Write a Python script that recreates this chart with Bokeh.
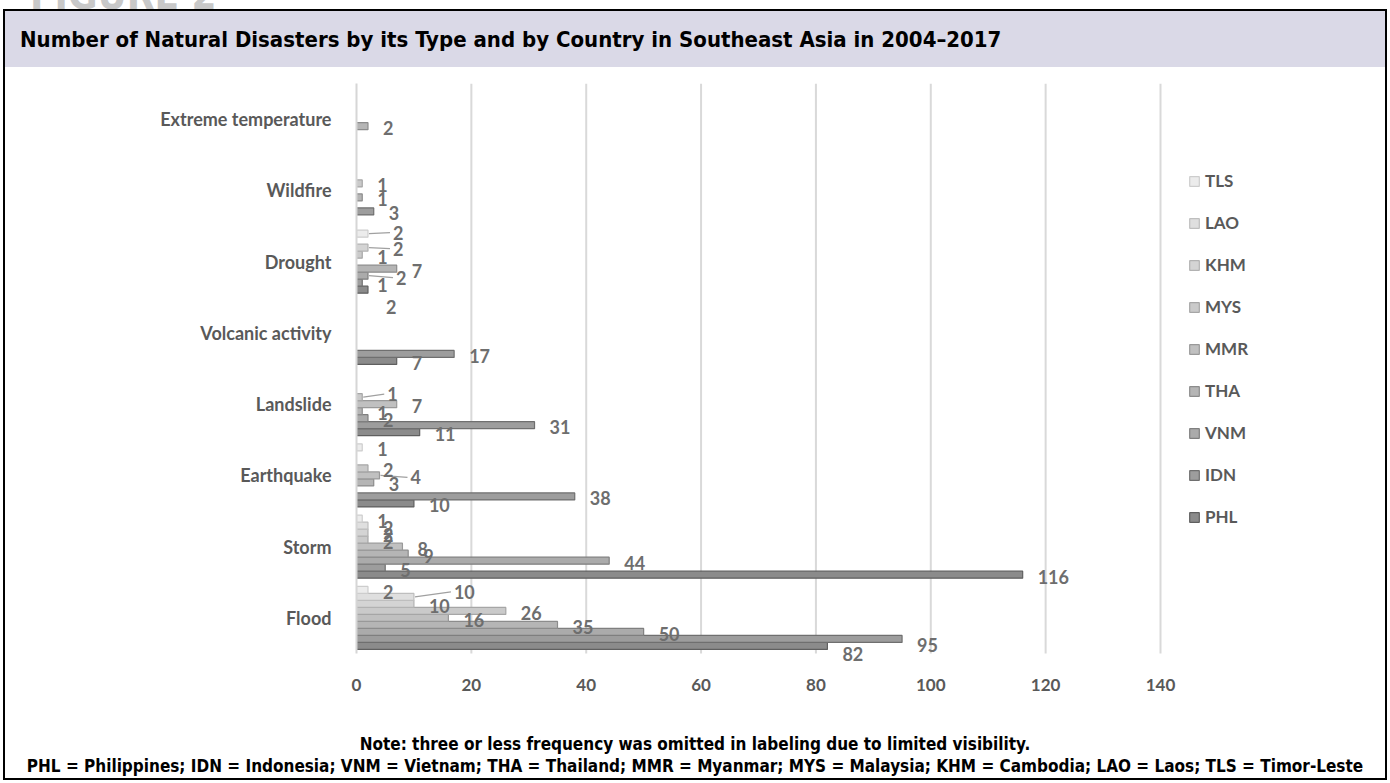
from bokeh.plotting import figure
from bokeh.layouts import column, row
from bokeh.models import Range1d, FixedTicker, Legend, LegendItem, ColumnDataSource, Div
from bokeh.embed import file_html
from bokeh.resources import INLINE
from bokeh.core.properties import value

# ---------------- data ----------------
categories = ["Flood", "Storm", "Earthquake", "Landslide", "Volcanic activity",
              "Drought", "Wildfire", "Extreme temperature"]
countries = ["PHL", "IDN", "VNM", "THA", "MMR", "MYS", "KHM", "LAO", "TLS"]
PHL = [82, 116, 10, 11, 7, 2, 0, 0]
IDN = [95, 5, 38, 31, 17, 1, 3, 0]
VNM = [50, 44, 0, 2, 0, 2, 0, 0]
THA = [35, 9, 3, 1, 0, 7, 1, 2]
MMR = [16, 8, 4, 7, 0, 0, 0, 0]
MYS = [26, 2, 2, 1, 0, 1, 1, 0]
KHM = [10, 2, 0, 0, 0, 2, 0, 0]
LAO = [10, 2, 0, 0, 0, 0, 0, 0]
TLS = [2, 1, 1, 0, 0, 2, 0, 0]
x_ticks = [0, 20, 40, 60, 80, 100, 120, 140]
title_text = "Number of Natural Disasters by its Type and by Country in Southeast Asia in 2004\u20132017"
note1 = "Note: three or less frequency was omitted in labeling due to limited visibility."
note2 = ("PHL = Philippines; IDN = Indonesia; VNM = Vietnam; THA = Thailand; MMR = Myanmar; "
         "MYS = Malaysia; KHM = Cambodia; LAO = Laos; TLS = Timor-Leste")
series = {"PHL": PHL, "IDN": IDN, "VNM": VNM, "THA": THA, "MMR": MMR,
          "MYS": MYS, "KHM": KHM, "LAO": LAO, "TLS": TLS}

# ---------------- layout / styles ----------------
W = 1390
HEAD_H, MID_H, FOOT_H = 67, 663, 53
SIDE = 6                                  # side strips carrying the frame border
PW = W - 2 * SIDE                         # figure width
XMAX = 140
NCAT = len(categories)
# frame in global px
GL, G140, GT, GB0, GB = 356, 1160, 83, 653, 671   # left, x=140, top, y=0 line, frame bottom
GR = 1300
pxx = (G140 - GL) / XMAX
pxy = (GB0 - GT) / NCAT
bh = 7.0 / pxy
y_lo = -(GB - GB0) / pxy
x_hi = (GR - GL) / pxx

fills = {"PHL": "#8b8b8b", "IDN": "#9d9d9d", "VNM": "#ababab", "THA": "#b5b5b5",
         "MMR": "#c0c0c0", "MYS": "#cacaca", "KHM": "#d4d4d4", "LAO": "#dfdfdf",
         "TLS": "#ececec"}
lines = {"PHL": "#5f5f5f", "IDN": "#6f6f6f", "VNM": "#7f7f7f", "THA": "#8c8c8c",
         "MMR": "#999999", "MYS": "#a6a6a6", "KHM": "#b2b2b2", "LAO": "#bebebe",
         "TLS": "#cdcdcd"}
nudge = {("Flood", "LAO"): (40, -5), ("Flood", "IDN"): (15, 6), ("Flood", "PHL"): (15, 8),
         ("Drought", "TLS"): (25, -1), ("Drought", "KHM"): (25, 1), ("Drought", "VNM"): (28, 2),
         ("Drought", "PHL"): (18, 17), ("Landslide", "MYS"): (25, -3),
         ("Earthquake", "MMR"): (31, 2)}
leaders = {("Flood", "LAO"), ("Drought", "TLS"), ("Drought", "KHM"), ("Drought", "VNM"),
           ("Landslide", "MYS"), ("Earthquake", "MMR")}

GRAY = "#595959"
LAB = "#6e6e6e"
FONT = "Lato"
NARROW = "'DejaVu Sans Condensed', 'DejaVu Sans', sans-serif"

p = figure(width=PW, height=MID_H, output_backend="svg", toolbar_location=None,
           x_range=Range1d(0, x_hi), y_range=Range1d(y_lo, NCAT),
           min_border_left=GL - SIDE, min_border_right=PW - (GR - SIDE),
           min_border_top=GT - HEAD_H, min_border_bottom=MID_H - (GB - HEAD_H),
           margin=0)
p.outline_line_color = None
p.background_fill_color = "white"
p.border_fill_color = "white"
p.xgrid.grid_line_color = None
p.ygrid.grid_line_color = None

p.xaxis.ticker = FixedTicker(ticks=x_ticks)
p.xaxis.axis_line_color = None
p.xaxis.major_tick_line_color = None
p.xaxis.minor_tick_line_color = None
p.xaxis.major_label_standoff = 1
p.xaxis.major_label_text_font = FONT
p.xaxis.major_label_text_font_style = "bold"
p.xaxis.major_label_text_font_size = "17px"
p.xaxis.major_label_text_color = GRAY

p.yaxis.ticker = FixedTicker(ticks=[i + 0.5 for i in range(NCAT)])
p.yaxis.major_label_overrides = {i + 0.5: c for i, c in enumerate(categories)}
p.yaxis.bounds = (0, NCAT)
p.yaxis.axis_line_color = "#d6d6d6"
p.yaxis.axis_line_width = 2
p.yaxis.major_tick_line_color = None
p.yaxis.minor_tick_line_color = None
p.yaxis.major_label_standoff = 19
p.yaxis.major_label_text_font = FONT
p.yaxis.major_label_text_font_style = "bold"
p.yaxis.major_label_text_font_size = "18px"
p.yaxis.major_label_text_color = GRAY

# vertical gridlines at the value ticks, spanning the category band only
p.segment(x0=x_ticks[1:], y0=0, x1=x_ticks[1:], y1=NCAT, line_color="#d9d9d9", line_width=2)

renderers = {}
lab_x, lab_y, lab_t, lab_dx, lab_dy = [], [], [], [], []
ld_x0, ld_y0, ld_x1, ld_y1 = [], [], [], []
for k, c in enumerate(countries):
    vals = series[c]
    ys, rs = [], []
    for i, v in enumerate(vals):
        if v <= 0:
            continue
        y = i + 0.5 + (k - 4) * bh
        ys.append(y)
        rs.append(v)
        ndx, ndy = nudge.get((categories[i], c), (15, 2))
        lab_x.append(v)
        lab_y.append(y)
        lab_t.append(str(v))
        lab_dx.append(ndx)
        lab_dy.append(ndy)
        if (categories[i], c) in leaders:
            ld_x0.append(v + 1.0 / pxx)
            ld_y0.append(y)
            ld_x1.append(v + (ndx - 3) / pxx)
            ld_y1.append(y - ndy / pxy)
    src = ColumnDataSource(dict(y=ys, right=rs))
    renderers[c] = p.hbar(y="y", right="right", left=0, height=bh, source=src,
                          fill_color=fills[c], line_color=lines[c], line_width=1.2)

p.segment(x0=ld_x0, y0=ld_y0, x1=ld_x1, y1=ld_y1, line_color="#a0a0a0", line_width=1.2)

lsrc = ColumnDataSource(dict(x=lab_x, y=lab_y, t=lab_t, dx=lab_dx, dy=lab_dy))
p.text(x="x", y="y", text="t", x_offset="dx", y_offset="dy", source=lsrc,
       text_font=value(FONT), text_font_style="bold", text_font_size="18px",
       text_color=LAB, text_align="left", text_baseline="middle")

items = [LegendItem(label=c, renderers=[renderers[c]]) for c in reversed(countries)]
legend = Legend(items=items, location=(1188 - GL, GB - 527), orientation="vertical",
                glyph_width=12, glyph_height=12, label_height=20, spacing=21,
                padding=0, margin=0, border_line_color=None, background_fill_alpha=0,
                label_text_font=FONT, label_text_font_style="bold",
                label_text_font_size="17px", label_text_color=GRAY, label_standoff=5)
p.add_layout(legend)

# ---------------- header / footer / frame sides ----------------
header_html = f"""
<div style="position:relative;width:{W}px;height:{HEAD_H}px;overflow:hidden;background:#fff;">
  <div style="position:absolute;left:30px;top:-25px;font:bold 40px {NARROW};color:#c8c8c8;
              line-height:40px;white-space:nowrap;">FIGURE 2</div>
  <div style="position:absolute;left:3px;top:9px;width:{W - 6}px;height:{HEAD_H - 9}px;
              box-sizing:border-box;border-top:2px solid #000;border-left:2px solid #000;
              border-right:2px solid #000;background:#dad9e7;"></div>
  <div style="position:absolute;left:20px;top:26px;font:bold 22px {NARROW};color:#000;
              line-height:28px;white-space:nowrap;">{title_text}</div>
</div>"""
footer_html = f"""
<div style="position:relative;width:{W}px;height:{FOOT_H}px;overflow:hidden;background:#fff;">
  <div style="position:absolute;left:3px;top:0;width:{W - 6}px;height:{FOOT_H - 3}px;
              box-sizing:border-box;border-left:2px solid #000;border-right:2px solid #000;
              border-bottom:2px solid #000;"></div>
  <div style="position:absolute;left:0;top:3px;width:{W}px;text-align:center;
              font:bold 17px {NARROW};color:#000;line-height:22px;white-space:nowrap;">{note1}</div>
  <div style="position:absolute;left:0;top:25px;width:{W}px;text-align:center;
              font:bold 17px {NARROW};color:#000;line-height:22px;white-space:nowrap;">{note2}</div>
</div>"""
side_l = f"""<div style="position:relative;width:{SIDE}px;height:{MID_H}px;background:#fff;">
  <div style="position:absolute;left:3px;top:0;width:2px;height:{MID_H}px;background:#000;"></div></div>"""
side_r = f"""<div style="position:relative;width:{SIDE}px;height:{MID_H}px;background:#fff;">
  <div style="position:absolute;left:1px;top:0;width:2px;height:{MID_H}px;background:#000;"></div></div>"""

header = Div(text=header_html, width=W, height=HEAD_H, margin=0)
footer = Div(text=footer_html, width=W, height=FOOT_H, margin=0)
left_strip = Div(text=side_l, width=SIDE, height=MID_H, margin=0)
right_strip = Div(text=side_r, width=SIDE, height=MID_H, margin=0)

mid = row(left_strip, p, right_strip, spacing=0, margin=0)
page = column(header, mid, footer, spacing=0, margin=0)

open("out.html", "w").write(file_html(page, INLINE))
